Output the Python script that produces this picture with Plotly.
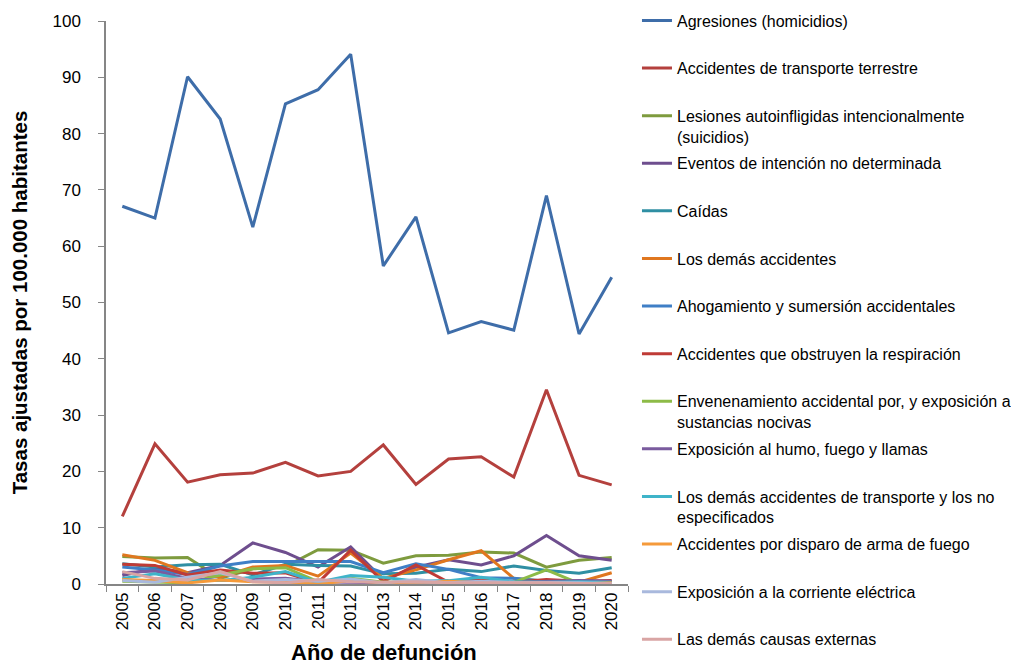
import plotly.graph_objects as go

years = [str(y) for y in range(2005, 2021)]

series_names = [
    "Agresiones (homicidios)",
    "Accidentes de transporte terrestre",
    "Lesiones autoinfligidas intencionalmente<br>(suicidios)",
    "Eventos de intención no determinada",
    "Caídas",
    "Los demás accidentes",
    "Ahogamiento y sumersión accidentales",
    "Accidentes que obstruyen la respiración",
    "Envenenamiento accidental por, y exposición a<br>sustancias nocivas",
    "Exposición al humo, fuego y llamas",
    "Los demás accidentes de transporte y los no<br>especificados",
    "Accidentes por disparo de arma de fuego",
    "Exposición a la corriente eléctrica",
    "Las demás causas externas",
]

agresiones = [67.1, 65.0, 90.1, 82.6, 63.4, 85.3, 87.8, 94.1, 56.5, 65.2, 44.6, 46.6, 45.1, 69.0, 44.4, 54.5]
transporte = [12.0, 24.9, 18.1, 19.4, 19.7, 21.6, 19.2, 20.0, 24.7, 17.7, 22.2, 22.6, 19.0, 34.5, 19.3, 17.6]
suicidios = [4.9, 4.6, 4.7, 1.0, 2.7, 3.1, 6.1, 6.0, 3.7, 5.0, 5.1, 5.7, 5.5, 3.0, 4.2, 4.7]
indeterminada = [1.5, 2.8, 2.0, 3.3, 7.3, 5.6, 3.0, 6.6, 0.8, 3.0, 4.3, 3.4, 5.0, 8.6, 5.0, 4.2]
caidas = [3.6, 3.0, 3.4, 3.5, 1.6, 3.5, 3.3, 3.2, 1.8, 1.9, 2.6, 2.2, 3.2, 2.4, 1.9, 2.9]
demas_acc = [5.2, 4.2, 2.0, 1.2, 3.0, 3.3, 1.4, 5.5, 1.0, 2.5, 4.3, 5.9, 1.0, 0.5, 0.3, 2.0]
ahogamiento = [3.0, 2.5, 1.7, 3.2, 4.0, 4.0, 4.0, 4.0, 2.0, 3.6, 2.6, 1.1, 1.0, 0.5, 0.3, 0.4]
obstruyen = [3.5, 3.3, 1.6, 2.5, 1.9, 2.0, 0.2, 6.0, 0.4, 3.4, 0.3, 0.9, 0.3, 0.8, 0.5, 0.6]
envenenamiento = [0.5, 0.4, 0.2, 1.6, 2.7, 2.9, 0.4, 1.0, 0.3, 0.4, 0.4, 0.2, 0.3, 2.5, 0.1, 0.2]
humo = [2.0, 2.3, 1.0, 0.6, 0.9, 1.0, 0.4, 0.3, 0.2, 0.4, 0.3, 0.3, 0.3, 0.5, 0.6, 0.5]
demas_transp = [1.0, 1.8, 0.7, 0.6, 1.2, 2.2, 0.3, 1.5, 1.2, 0.5, 0.6, 1.2, 0.4, 0.3, 0.4, 0.3]
disparo = [0.8, 0.6, 0.2, 0.7, 0.4, 0.3, 0.0, 0.6, 0.2, 0.3, 0.5, 0.2, 0.2, 0.1, 0.0, 0.2]
electrica = [0.6, 0.3, 1.2, 2.0, 0.5, 0.8, 0.5, 0.9, 0.2, 0.8, 0.2, 0.5, 0.3, 0.3, 0.2, 0.1]
demas_causas = [2.2, 1.0, 0.7, 2.2, 0.4, 0.2, 0.8, 0.4, 0.3, 0.4, 0.2, 0.2, 0.3, 0.2, 0.1, 0.1]

series_values = [agresiones, transporte, suicidios, indeterminada, caidas, demas_acc,
                 ahogamiento, obstruyen, envenenamiento, humo, demas_transp, disparo,
                 electrica, demas_causas]

colors = ["#3E6DA9", "#B4403D", "#7E9B3E", "#6E4E8E", "#2F8FA3", "#E0771F",
          "#3F7FC6", "#BF3B36", "#8DBB47", "#7A5B9E", "#3FB4C9", "#F59A3A",
          "#A9B9DD", "#D9A5A4"]

x_title = "Año de defunción"
y_title = "Tasas ajustadas por 100.000 habitantes"

fig = go.Figure()
for i, (name, vals, col) in enumerate(zip(series_names, series_values, colors)):
    label = name if "<br>" in name else name + "<br>\u00a0"
    fig.add_trace(go.Scatter(
        x=years, y=vals, name=label, mode="lines",
        line=dict(color=col, width=3),
        legendgroup=f"g{i}",
    ))

# The page body adds an 8px offset, so the figure is 8px smaller each way.
fig.update_layout(
    width=1011, height=660,
    margin=dict(l=98, r=391, t=13, b=84, autoexpand=False),
    paper_bgcolor="white", plot_bgcolor="white",
    font=dict(family="Liberation Sans, Arial, sans-serif", color="#000000"),
    showlegend=True,
    legend=dict(
        x=1.0172, xanchor="left", y=1.031, yanchor="top",
        font=dict(size=16, color="#000000"),
        tracegroupgap=3, valign="top", itemwidth=30,
        bgcolor="rgba(0,0,0,0)",
    ),
)
try:
    fig.update_layout(legend_maxheight=668)
except Exception:
    pass

fig.add_annotation(
    text=f"<b>{x_title}</b>", xref="paper", yref="paper",
    x=0.533, y=0, yshift=-83, xanchor="center", yanchor="bottom",
    showarrow=False, font=dict(size=22, color="#000000"),
)

fig.update_xaxes(
    type="category", range=[-0.5, 15.5],
    showline=True, linecolor="#868686", linewidth=1.5,
    ticks="outside", tickson="boundaries", ticklen=6, tickcolor="#868686",
    tickangle=-90, tickfont=dict(size=17),
    showgrid=False, zeroline=False,
)
fig.update_yaxes(
    range=[0, 100], dtick=10,
    showline=True, linecolor="#868686", linewidth=1.5,
    ticks="outside", ticklen=6, tickcolor="#868686",
    tickfont=dict(size=17),
    showgrid=False, zeroline=False,
    title=dict(text=f"<b>{y_title}</b>", font=dict(size=20.5), standoff=32),
)
try:
    fig.update_yaxes(ticklabelstandoff=14)
except Exception:
    pass

fig.write_html("out.html")
